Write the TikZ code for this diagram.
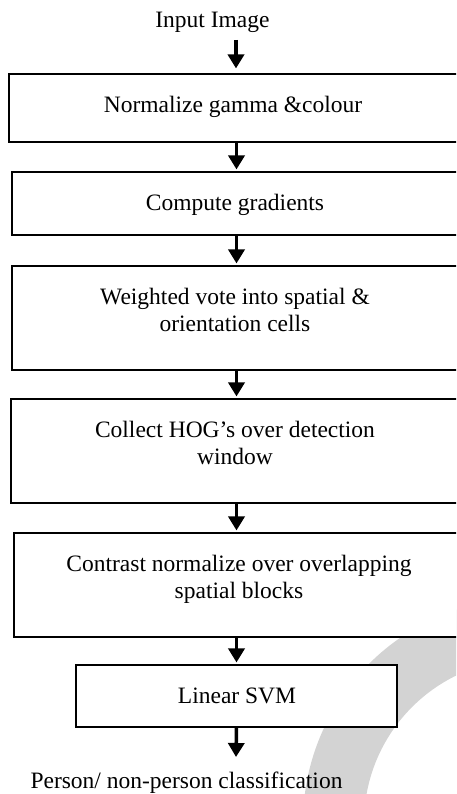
\documentclass[tikz,border=0pt]{standalone}
\usepackage{fontspec}
\setmainfont{Liberation Serif}
\usetikzlibrary{arrows.meta}
\definecolor{ringgray}{RGB}{211,211,211}
% invisible strut fixing the height of the first text line
\newcommand\firstline{\rule{0pt}{18pt}}
\begin{document}
\begin{tikzpicture}[x=1pt,y=-1pt,
  stage/.style={draw=black, line width=1.1pt, fill=white, inner sep=0pt},
  caption/.style={font=\fontsize{23.5}{27}\selectfont, inner sep=0pt, anchor=north, align=center},
  plain/.style={font=\fontsize{23.5}{27}\selectfont, inner sep=0pt, anchor=base},
  flow/.style={line width=3.5pt, -{Triangle[length=14pt,width=16pt]}, shorten >=2pt}]
\useasboundingbox (0,0) rectangle (456,794);
\clip (0,0) rectangle (456,794);

% light grey ring in the lower right corner
\fill[ringgray, even odd rule] (528,823) circle[radius=225pt] (528,823) circle[radius=164pt];

% processing stages
\node[stage, minimum width=452pt, minimum height=68pt]  (b1) at (235,108)   {};
\node[stage, minimum width=446pt, minimum height=63pt]  (b2) at (235,203.5) {};
\node[stage, minimum width=446pt, minimum height=104pt] (b3) at (235,318)   {};
\node[stage, minimum width=448pt, minimum height=104pt] (b4) at (235,451)   {};
\node[stage, minimum width=446pt, minimum height=104pt] (b5) at (237,585)   {};
\node[stage, minimum width=321pt, minimum height=62pt]  (b6) at (236.5,696) {};

% stage labels
\node[caption] (t1) at (233,94)  {\firstline Normalize gamma \&colour};
\node[caption] (t2) at (235,192) {\firstline Compute gradients};
\node[caption] (t3) at (235,286) {\firstline Weighted vote into spatial \&\\orientation cells};
\node[caption] (t4) at (235,419) {\firstline Collect HOG’s over detection\\window};
\node[caption] (t5) at (239,553) {\firstline Contrast normalize over overlapping\\spatial blocks};
\node[caption] (t6) at (237,685) {\firstline Linear SVM};

% input and output
\node[plain] (input)  at (212.5,28) {Input Image};
\node[plain] (output) at (186.5,788) {Person/ non-person classification};

% connectors
\coordinate (axis) at (236.5,0);
\coordinate (inarrow) at (236,40);
\coordinate (outarrow) at (236,757);
\draw[flow, shorten >=5pt] (inarrow) -- (inarrow |- b1.north);
\draw[flow] (b1.south -| axis) -- (b2.north -| axis);
\draw[flow] (b2.south -| axis) -- (b3.north -| axis);
\draw[flow] (b3.south -| axis) -- (b4.north -| axis);
\draw[flow] (b4.south -| axis) -- (b5.north -| axis);
\draw[flow] (b5.south -| axis) -- (b6.north -| axis);
\draw[flow, shorten >=0pt] (b6.south -| axis) -- (outarrow);
\end{tikzpicture}
\end{document}
